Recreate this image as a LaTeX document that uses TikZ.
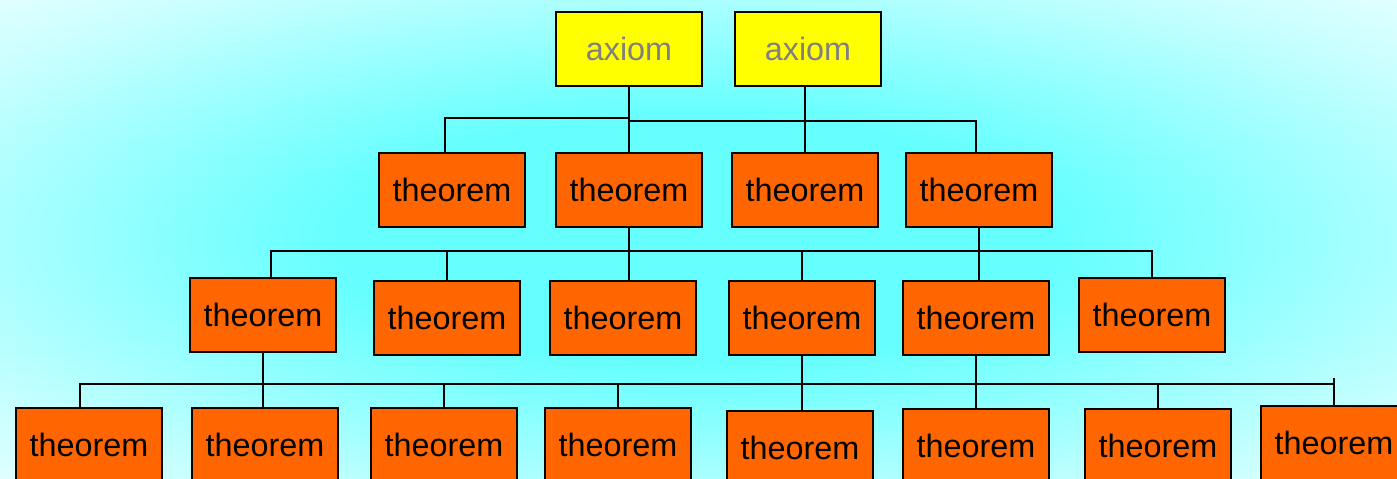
\documentclass[tikz,border=0pt]{standalone}
\usepackage{fontspec}
\setmainfont{Liberation Sans}
\definecolor{GlowCyan}{RGB}{102,255,255}
\definecolor{GlowPale}{RGB}{200,255,255}
\definecolor{AxiomYellow}{RGB}{255,255,0}
\definecolor{TheoremOrange}{RGB}{255,102,0}
\usetikzlibrary{
    calc,
}
\pgfdeclareradialshading{skyglow}{\pgfpoint{0bp}{0bp}}{color(0bp)=(GlowCyan); color(13bp)=(GlowCyan); color(30bp)=(GlowPale); color(42bp)=(white); color(71bp)=(white)}
\tikzset{
    box/.style={draw=black, line width=0.8pt, minimum width=1.46cm, minimum height=0.74cm, inner sep=0pt, font=\fontsize{9.2}{11}\selectfont},
    axiom/.style={box, fill=AxiomYellow, text=gray},
    theorem/.style={box, fill=TheoremOrange, text=black},
    wire/.style={line width=0.7pt, black},
}

\begin{document}
\begin{tikzpicture}[x=0.01cm, y=-0.01cm]
        \useasboundingbox (0,0) rectangle (1397,479);
        \clip (0,0) rectangle (1397,479);
        \shade[shading=skyglow] (0,0) rectangle (1397,479);
        % bus levels
        \coordinate (bus1) at (0,118);
        \coordinate (bus1b) at (0,121);
        \coordinate (bus2) at (0,251);
        \coordinate (bus3) at (0,384);
        % axioms
        \node[axiom] (a1) at (629,49) {axiom};
        \node[axiom] (a2) at (808,49) {axiom};
        % first theorems
        \node[theorem] (t1) at (452,190) {theorem};
        \node[theorem] (t2) at (629,190) {theorem};
        \node[theorem] (t3) at (805,190) {theorem};
        \node[theorem] (t4) at (979,190) {theorem};
        % second theorems
        \node[theorem] (b1) at (263,315) {theorem};
        \node[theorem] (b2) at (447,318) {theorem};
        \node[theorem] (b3) at (623,318) {theorem};
        \node[theorem] (b4) at (802,318) {theorem};
        \node[theorem] (b5) at (976,318) {theorem};
        \node[theorem] (b6) at (1152,315) {theorem};
        % third theorems
        \node[theorem] (c1) at (89,445) {theorem};
        \node[theorem] (c2) at (265,445) {theorem};
        \node[theorem] (c3) at (444,445) {theorem};
        \node[theorem] (c4) at (618,445) {theorem};
        \node[theorem] (c5) at (800,448) {theorem};
        \node[theorem] (c6) at (976,446) {theorem};
        \node[theorem] (c7) at (1158,446) {theorem};
        \node[theorem] (c8) at (1334,443) {theorem};
        % wires
        \draw[wire] (a1.south) -- (t2.north);
        \draw[wire] (a1.south |- bus1) -| ($(t1.north)+(-7,0)$);
        \draw[wire] (a1.south |- bus1b) -| ($(t4.north)+(-3,0)$);
        \draw[wire] (t3.north |- a2.south) -- (t3.north);
        \draw[wire] (t2.south) -- (t2.south |- b3.north);
        \draw[wire] (t4.south) -- (t4.south |- b5.north);
        \draw[wire] ($(b1.north)+(8,0)$) |- (b6.north |- bus2) -- (b6.north);
        \draw[wire] (b2.north) -- (b2.north |- bus2);
        \draw[wire] (b4.north) -- (b4.north |- bus2);
        \draw[wire] (b1.south) -- (b1.south |- c2.north);
        \draw[wire] (b4.south) -- (b4.south |- c5.north);
        \draw[wire] (b5.south) -- (b5.south |- c6.north);
        \draw[wire] ($(c1.north)+(-9,0)$) |- (c8.north |- bus3) -- (c8.north);
        \draw[wire] (c8.north |- bus3) -- ++(0,-6);
        \draw[wire] (c3.north) -- (c3.north |- bus3);
        \draw[wire] (c4.north) -- (c4.north |- bus3);
        \draw[wire] (c7.north) -- (c7.north |- bus3);
    \end{tikzpicture}
\end{document}
